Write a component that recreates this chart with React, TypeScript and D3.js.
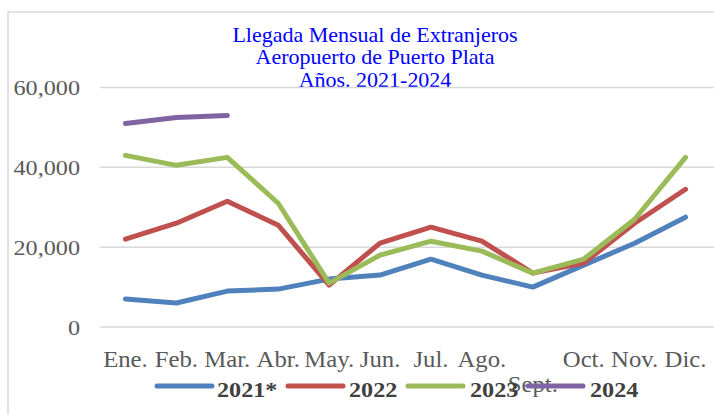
import React from 'react';
import * as d3 from 'd3';

const months = ['Ene.', 'Feb.', 'Mar.', 'Abr.', 'May.', 'Jun.', 'Jul.', 'Ago.', 'Sept.', 'Oct.', 'Nov.', 'Dic.'];
const yTicks = [0, 20000, 40000, 60000];
const titleLines = ['Llegada Mensual de Extranjeros', 'Aeropuerto de Puerto Plata', 'Años. 2021-2024'];

const v2021 = [7000, 6000, 9000, 9500, 12000, 13000, 17000, 13000, 10000, 15500, 21000, 27500];
const v2022 = [22000, 26000, 31500, 25500, 10500, 21000, 25000, 21500, 13500, 16000, 26000, 34500];
const v2023 = [43000, 40500, 42500, 31000, 11000, 18000, 21500, 19000, 13500, 17000, 27000, 42500];
const v2024 = [51000, 52500, 53000];

const series = [
  { name: '2021*', values: v2021, color: '#4F81BD' },
  { name: '2022', values: v2022, color: '#C0504D' },
  { name: '2023', values: v2023, color: '#9BBB59' },
  { name: '2024', values: v2024, color: '#8064A2' },
];

const W = 714, H = 415;
const font = '"Liberation Serif", "Times New Roman", serif';
// the picture is slightly stretched sideways, so text gets widened a bit
const sx = 1.1;

function Txt(props: any) {
  const { x, y, children, ...rest } = props;
  return (
    <text transform={`translate(${x},${y}) scale(${sx},1)`} fontFamily={font} {...rest}>{children}</text>
  );
}

export default function App() {
  const x = d3.scalePoint<string>().domain(months).range([100, 711]).padding(0.5);
  const y = d3.scaleLinear().domain([0, 60000]).range([327, 87.5]);
  const line = d3.line<number>()
    .x((d, i) => x(months[i]) as number)
    .y(d => y(d));
  const fmt = d3.format(',');

  // legend item positions
  const legendX = [157, 288, 408, 528];
  const legendTx = [217, 349, 470, 590];

  return (
    <svg width={W} height={H} style={{ position: 'absolute', left: 0, top: 0, background: '#fff' }}>
      <rect x={8} y={12} width={720} height={420} fill="#fff" stroke="#D9D9D9" strokeWidth={1.5} />
      {titleLines.map((t, i) => (
        <Txt key={t} x={375} y={41.5 + i * 22.8} textAnchor="middle" fontSize={20} fill="#0000FF">{t}</Txt>
      ))}
      {yTicks.map(t => (
        <g key={t}>
          <line x1={100} x2={714} y1={y(t)} y2={y(t)} stroke="#D9D9D9" strokeWidth={1.5} />
          <Txt x={80} y={y(t) + 7.5} textAnchor="end" fontSize={22} fill="#595959">{fmt(t)}</Txt>
        </g>
      ))}
      {series.map(s => (
        <path key={s.name} d={line(s.values) || ''} fill="none" stroke={s.color} strokeWidth={5}
          strokeLinejoin="round" strokeLinecap="round" />
      ))}
      {months.map(m => (
        <Txt key={m} x={x(m)} y={m === 'Sept.' ? 392 : 367} textAnchor="middle" fontSize={22.5} fill="#595959">{m}</Txt>
      ))}
      {series.map((s, i) => (
        <g key={'lg' + s.name}>
          <line x1={legendX[i]} x2={legendX[i] + 55} y1={386} y2={386} stroke={s.color} strokeWidth={5} strokeLinecap="round" />
          <Txt x={legendTx[i]} y={397} fontSize={22} fontWeight="bold" fill="#404040">{s.name}</Txt>
        </g>
      ))}
    </svg>
  );
}
